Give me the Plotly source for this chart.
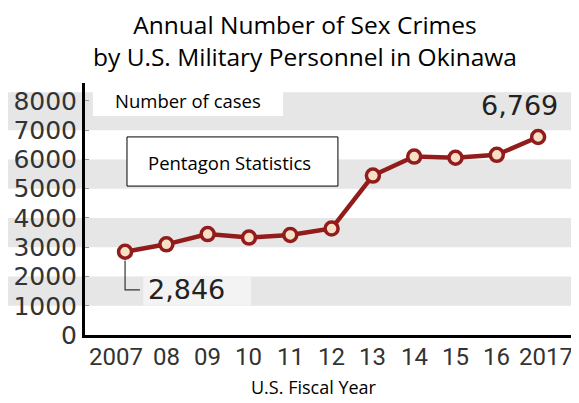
import plotly.graph_objects as go

years = [2007, 2008, 2009, 2010, 2011, 2012, 2013, 2014, 2015, 2016, 2017]
tick_labels = ["2007", "08", "09", "10", "11", "12", "13", "14", "15", "16", "2017"]
cases = [2846, 3100, 3450, 3330, 3420, 3640, 5450, 6100, 6060, 6160, 6769]
y_ticks = [0, 1000, 2000, 3000, 4000, 5000, 6000, 7000, 8000]
bands = [(1000, 2000), (3000, 4000), (5000, 6000), (7000, 8300)]

red = "#921b1b"

fig = go.Figure()
fig.add_trace(go.Scatter(
    x=years, y=cases, mode="lines+markers",
    line=dict(color=red, width=4.5),
    marker=dict(size=13, color="#f7e0c6", line=dict(color=red, width=3.5)),
    hoverinfo="x+y", showlegend=False, cliponaxis=False,
))

shapes = []
for lo, hi in bands:
    shapes.append(dict(type="rect", xref="paper", yref="y", x0=-0.18, x1=1.02,
                       y0=lo, y1=hi, fillcolor="#e6e6e6", line=dict(width=0), layer="below"))
# lighter patch behind the first-value label
shapes.append(dict(type="rect", xref="x", yref="y", x0=years[0] + 0.44, x1=years[0] + 3.05,
                   y0=bands[0][0], y1=bands[0][1], fillcolor="#f3f3f3", line=dict(width=0), layer="below"))
# leader line for first value
shapes.append(dict(type="path", xref="x", yref="y",
                   path=f"M {years[0]},{cases[0] - 300} L {years[0]},{cases[0] - 1300} L {years[0] + 0.36},{cases[0] - 1300}",
                   line=dict(color="#333", width=1.2)))
# "Number of cases" white box
shapes.append(dict(type="rect", xref="paper", yref="paper", x0=0.016, x1=0.401, y0=0.869, y1=1.012,
                   fillcolor="white", line=dict(width=0), layer="below"))
# Pentagon statistics box
shapes.append(dict(type="rect", xref="paper", yref="paper", x0=0.085, x1=0.512, y0=0.591, y1=0.786,
                   fillcolor="white", line=dict(color="black", width=1)))

annotations = [
    dict(text="Annual Number of Sex Crimes<br>by U.S. Military Personnel in Okinawa",
         xref="paper", yref="paper", x=0.445, y=1.17, xanchor="center", yanchor="middle",
         showarrow=False, font=dict(family="Open Sans", size=24.5, color="black")),
    dict(text="Number of cases", xref="paper", yref="paper", x=0.2085, y=0.9325,
         xanchor="center", yanchor="middle",
         showarrow=False, font=dict(family="Open Sans", size=18.5, color="black")),
    dict(text="Pentagon Statistics", xref="paper", yref="paper", x=0.2915, y=0.6865,
         xanchor="center", yanchor="middle",
         showarrow=False, font=dict(family="Open Sans", size=18.5, color="black")),
    dict(text=f"{cases[-1]:,}", xref="x", yref="y", x=years[-1] - 0.44, y=cases[-1] + 1060,
         xanchor="center", yanchor="middle", showarrow=False,
         font=dict(family="DejaVu Sans", size=27, color="#222")),
    dict(text=f"{cases[0]:,}", xref="x", yref="y", x=years[0] + 0.5, y=cases[0] - 1300,
         xanchor="left", yanchor="middle", showarrow=False,
         font=dict(family="DejaVu Sans", size=27, color="#222")),
    dict(text="U.S. Fiscal Year", xref="paper", yref="paper", x=0.4636, y=-0.205,
         xanchor="center", yanchor="middle", showarrow=False,
         font=dict(family="Open Sans", size=18, color="black")),
]

# x-axis category labels (first and last nudged outward like the original)
for i, (yr, lab) in enumerate(zip(years, tick_labels)):
    shift = -9 if i == 0 else (8 if i == len(years) - 1 else 0)
    annotations.append(dict(text=lab, xref="x", yref="paper", x=yr, y=-0.0873,
                            xanchor="center", yanchor="middle", xshift=shift, showarrow=False,
                            font=dict(family="Roboto", size=24, color="#333")))

fig.update_layout(
    width=579, height=403,
    margin=dict(l=77, r=8, t=75, b=76),
    paper_bgcolor="white", plot_bgcolor="rgba(0,0,0,0)",
    shapes=shapes, annotations=annotations,
    xaxis=dict(range=[2006.03, 2017.99], tickvals=years, showticklabels=False,
               showgrid=False, zeroline=False, showline=True, linecolor="black", linewidth=3,
               ticks="", automargin=False),
    yaxis=dict(range=[0, 8615], tickvals=y_ticks, showgrid=False, zeroline=False,
               showline=True, linecolor="black", linewidth=3, automargin=False,
               ticks="inside", ticklen=4, tickcolor="#999", tickwidth=1,
               tickfont=dict(family="DejaVu Sans", size=25, color="#333")),
)

fig.write_html("out.html")
